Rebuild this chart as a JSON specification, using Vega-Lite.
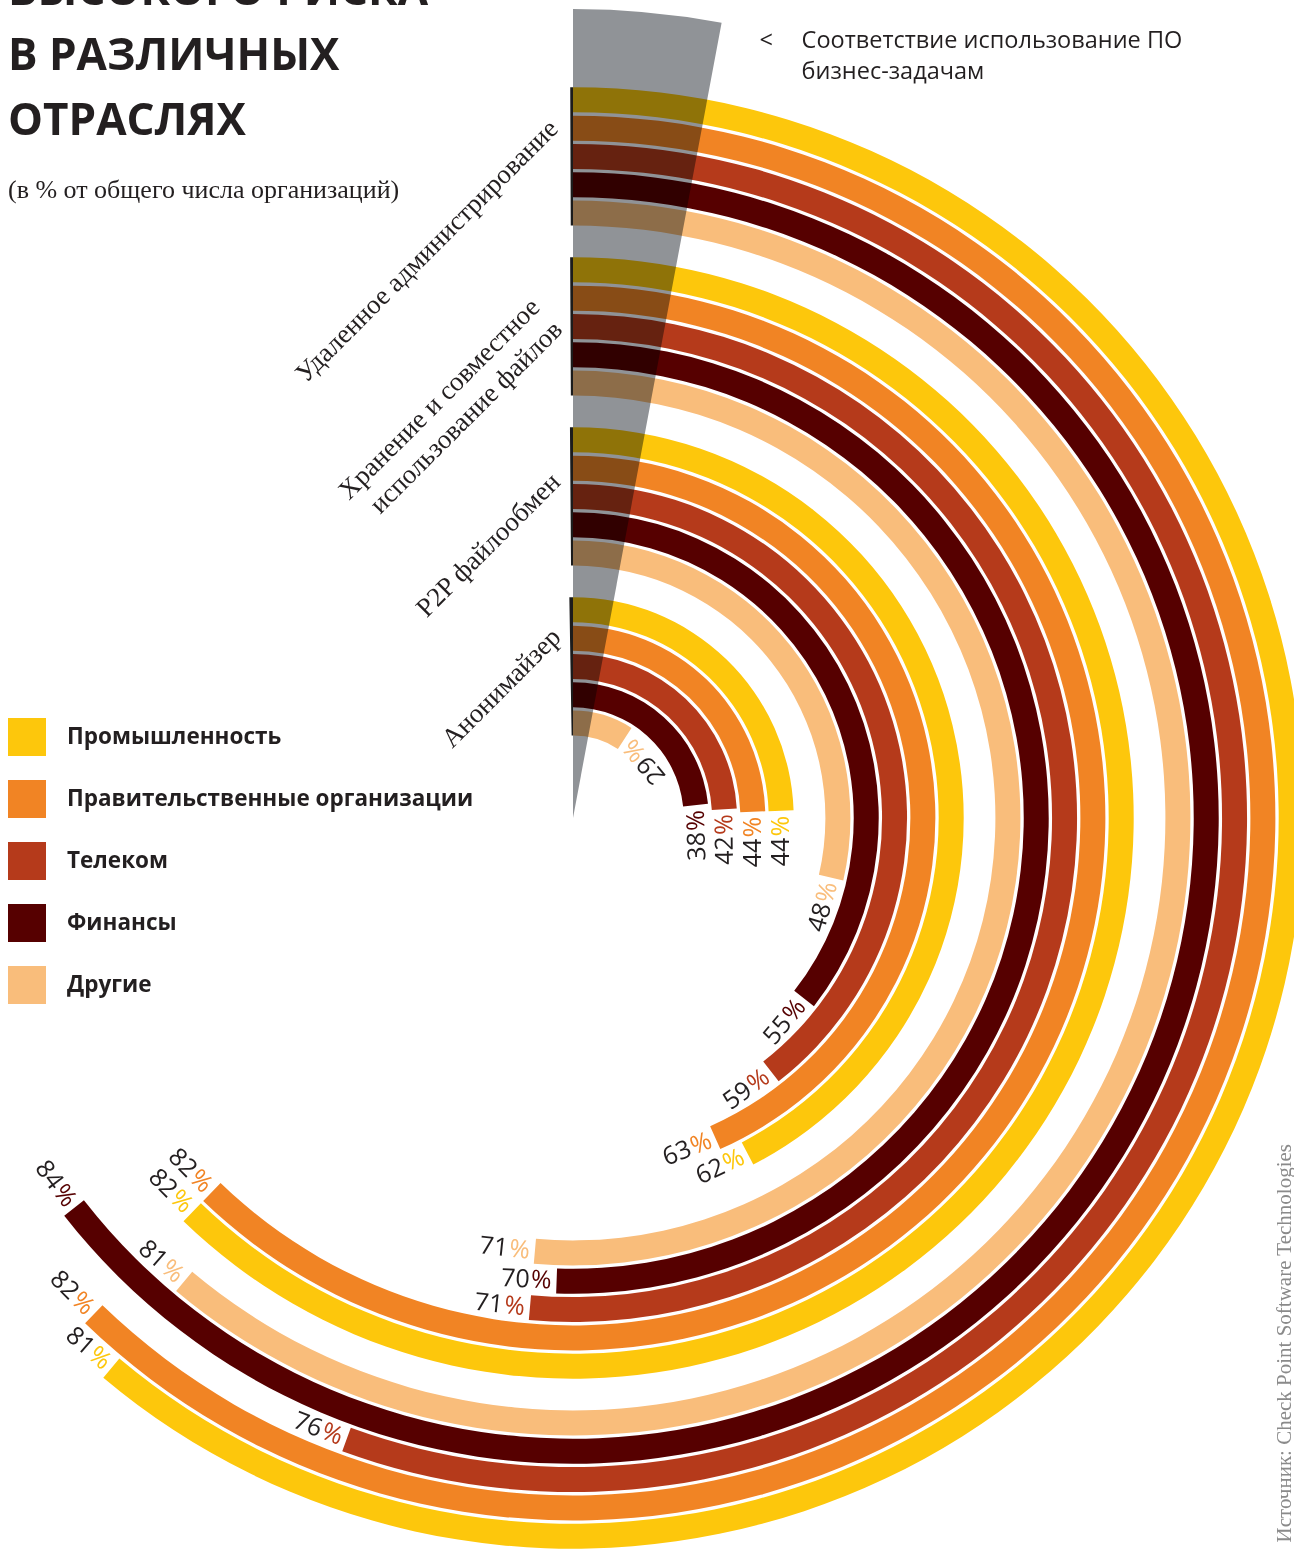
{
  "$schema": "https://vega.github.io/schema/vega-lite/v6.json",
  "width": 1146,
  "height": 1464,
  "autosize": {"type": "none"},
  "padding": {"left": 0, "top": 86, "right": 148, "bottom": 0},
  "background": "white",
  "config": {
    "view": {"stroke": null},
    "legend": {
      "orient": "none", "legendX": 8, "legendY": 632, "padding": 0,
      "symbolType": "square", "symbolSize": 1444, "symbolStrokeWidth": 0, "symbolOpacity": 1,
      "labelFont": "Open Sans", "labelFontWeight": "bold", "labelFontSize": 22.5, "labelColor": "#231f20",
      "labelOffset": 21, "rowPadding": 24, "labelLimit": 700
    }
  },
  "title": {
    "text": ["ВЫСОКОГО РИСКА", "В РАЗЛИЧНЫХ", "ОТРАСЛЯХ"],
    "subtitle": "(в % от общего числа организаций)",
    "anchor": "start", "frame": "group", "orient": "top", "offset": 0,
    "dx": 8, "dy": 194,
    "font": "Open Sans", "fontSize": 44, "fontWeight": "bold", "color": "#231f20", "lineHeight": 65,
    "subtitleFont": "Liberation Serif", "subtitleFontSize": 26, "subtitleColor": "#231f20",
    "subtitleLineHeight": 30, "subtitlePadding": 33
  },
  "datasets": {
    "rings": [
      {"group": "Удаленное администрирование", "industry": "Промышленность", "value": 81},
      {"group": "Удаленное администрирование", "industry": "Правительственные организации", "value": 82},
      {"group": "Удаленное администрирование", "industry": "Телеком", "value": 76},
      {"group": "Удаленное администрирование", "industry": "Финансы", "value": 84},
      {"group": "Удаленное администрирование", "industry": "Другие", "value": 81},
      {"group": "Хранение и совместное\nиспользование файлов", "industry": "Промышленность", "value": 82},
      {"group": "Хранение и совместное\nиспользование файлов", "industry": "Правительственные организации", "value": 82},
      {"group": "Хранение и совместное\nиспользование файлов", "industry": "Телеком", "value": 71},
      {"group": "Хранение и совместное\nиспользование файлов", "industry": "Финансы", "value": 70},
      {"group": "Хранение и совместное\nиспользование файлов", "industry": "Другие", "value": 71},
      {"group": "P2P файлообмен", "industry": "Промышленность", "value": 62},
      {"group": "P2P файлообмен", "industry": "Правительственные организации", "value": 63},
      {"group": "P2P файлообмен", "industry": "Телеком", "value": 59},
      {"group": "P2P файлообмен", "industry": "Финансы", "value": 55},
      {"group": "P2P файлообмен", "industry": "Другие", "value": 48},
      {"group": "Анонимайзер", "industry": "Промышленность", "value": 44},
      {"group": "Анонимайзер", "industry": "Правительственные организации", "value": 44},
      {"group": "Анонимайзер", "industry": "Телеком", "value": 42},
      {"group": "Анонимайзер", "industry": "Финансы", "value": 38},
      {"group": "Анонимайзер", "industry": "Другие", "value": 29}
    ],
    "wedge": [
      {"label": "Соответствие использование ПО\nбизнес-задачам", "value": 9.3}
    ]
  },
  "layer": [
    {
      "data": {"name": "rings"},
      "transform": [{"filter": {"field": "group", "equal": "Анонимайзер"}}],
      "encoding": {
        "radius": {"field": "industry", "type": "nominal", "scale": {"type": "point", "domain": ["Другие", "Финансы", "Телеком", "Правительственные организации", "Промышленность"], "range": [94.9, 208.2], "padding": 0}}
      },
      "layer": [
        {"mark": {"type": "arc", "radiusOffset": 12.5, "radius2Offset": -12.5},
         "encoding": {
           "radius2": {"field": "industry"},
           "theta": {"field": "value", "type": "quantitative", "stack": null, "scale": {"type": "linear", "domain": [0, 29, 38, 44, 48, 55, 63, 70, 76, 84], "range": [0, 0.576, 1.466, 1.536, 1.798, 2.234, 2.723, 3.177, 3.491, 4.049], "zero": false, "nice": false}},
           "theta2": {"datum": 0},
           "color": {"field": "industry", "type": "nominal", "scale": {"domain": ["Промышленность", "Правительственные организации", "Телеком", "Финансы", "Другие"], "range": ["#FDC70C", "#F18424", "#B53A1B", "#560000", "#F9BD7B"]}, "legend": {"title": null}}
         }},
        {"transform": [{"filter": {"field": "industry", "equal": "Промышленность"}}],
         "mark": {"type": "arc", "color": "#1c1c1c", "radiusOffset": 12.5, "radius2Offset": -12.5, "theta2Offset": -0.0166},
         "encoding": {
           "radius2": {"datum": "Другие"},
           "theta": {"datum": 0, "type": "quantitative", "scale": {"type": "linear", "domain": [0, 29, 38, 44, 48, 55, 63, 70, 76, 84], "range": [0, 0.576, 1.466, 1.536, 1.798, 2.234, 2.723, 3.177, 3.491, 4.049], "zero": false, "nice": false}},
           "theta2": {"datum": 0}
         }},
        {"mark": {"type": "text", "align": "right", "baseline": "middle", "dx": -27, "font": "Open Sans", "fontSize": 25, "color": "#231f20"},
         "encoding": {
           "theta": {"field": "value", "type": "quantitative", "stack": null, "scale": {"type": "linear", "domain": [0, 29, 38, 44, 48, 55, 63, 70, 76, 84], "range": [0, 0.576, 1.466, 1.536, 1.798, 2.234, 2.723, 3.177, 3.491, 4.049], "zero": false, "nice": false}},
           "text": {"field": "value", "type": "quantitative", "format": "d"},
           "angle": {"field": "value", "type": "quantitative", "scale": {"type": "linear", "domain": [0, 29, 38, 44, 48, 55, 63, 70, 76, 84], "range": [-180, -130, -92, -90, -74, -50, -22, 3, 21, 53], "zero": false, "nice": false}}
         }},
        {"mark": {"type": "text", "align": "right", "baseline": "middle", "dx": -5, "font": "Open Sans", "fontSize": 25},
         "encoding": {
           "theta": {"field": "value", "type": "quantitative", "stack": null, "scale": {"type": "linear", "domain": [0, 29, 38, 44, 48, 55, 63, 70, 76, 84], "range": [0, 0.576, 1.466, 1.536, 1.798, 2.234, 2.723, 3.177, 3.491, 4.049], "zero": false, "nice": false}},
           "text": {"value": "%"},
           "angle": {"field": "value", "type": "quantitative", "scale": {"type": "linear", "domain": [0, 29, 38, 44, 48, 55, 63, 70, 76, 84], "range": [-180, -130, -92, -90, -74, -50, -22, 3, 21, 53], "zero": false, "nice": false}},
           "color": {"field": "industry", "type": "nominal", "scale": {"domain": ["Промышленность", "Правительственные организации", "Телеком", "Финансы", "Другие"], "range": ["#FDC70C", "#F18424", "#B53A1B", "#560000", "#F9BD7B"]}, "legend": null}
         }},
        {"transform": [{"filter": {"field": "industry", "equal": "Промышленность"}}],
         "mark": {"type": "text", "align": "right", "baseline": "middle", "angle": 315, "dx": -28, "dy": 5, "font": "Liberation Serif", "fontSize": 27, "color": "#231f20", "lineBreak": "\n", "lineHeight": 32},
         "encoding": {
           "theta": {"datum": 0, "type": "quantitative", "scale": {"type": "linear", "domain": [0, 29, 38, 44, 48, 55, 63, 70, 76, 84], "range": [0, 0.576, 1.466, 1.536, 1.798, 2.234, 2.723, 3.177, 3.491, 4.049], "zero": false, "nice": false}},
           "text": {"field": "group", "type": "nominal"}
         }}
      ]
    },
    {
      "data": {"name": "rings"},
      "transform": [{"filter": {"field": "group", "equal": "P2P файлообмен"}}],
      "encoding": {
        "radius": {"field": "industry", "type": "nominal", "scale": {"type": "point", "domain": ["Другие", "Финансы", "Телеком", "Правительственные организации", "Промышленность"], "range": [264.9, 378.2], "padding": 0}}
      },
      "layer": [
        {"mark": {"type": "arc", "radiusOffset": 12.5, "radius2Offset": -12.5},
         "encoding": {
           "radius2": {"field": "industry"},
           "theta": {"field": "value", "type": "quantitative", "stack": null, "scale": {"type": "linear", "domain": [0, 29, 38, 44, 48, 55, 63, 70, 76, 84], "range": [0, 0.576, 1.466, 1.536, 1.798, 2.234, 2.723, 3.177, 3.491, 4.049], "zero": false, "nice": false}},
           "theta2": {"datum": 0},
           "color": {"field": "industry", "type": "nominal", "scale": {"domain": ["Промышленность", "Правительственные организации", "Телеком", "Финансы", "Другие"], "range": ["#FDC70C", "#F18424", "#B53A1B", "#560000", "#F9BD7B"]}, "legend": {"title": null}}
         }},
        {"transform": [{"filter": {"field": "industry", "equal": "Промышленность"}}],
         "mark": {"type": "arc", "color": "#1c1c1c", "radiusOffset": 12.5, "radius2Offset": -12.5, "theta2Offset": -0.0078},
         "encoding": {
           "radius2": {"datum": "Другие"},
           "theta": {"datum": 0, "type": "quantitative", "scale": {"type": "linear", "domain": [0, 29, 38, 44, 48, 55, 63, 70, 76, 84], "range": [0, 0.576, 1.466, 1.536, 1.798, 2.234, 2.723, 3.177, 3.491, 4.049], "zero": false, "nice": false}},
           "theta2": {"datum": 0}
         }},
        {"mark": {"type": "text", "align": "right", "baseline": "middle", "dx": -27, "font": "Open Sans", "fontSize": 25, "color": "#231f20"},
         "encoding": {
           "theta": {"field": "value", "type": "quantitative", "stack": null, "scale": {"type": "linear", "domain": [0, 29, 38, 44, 48, 55, 63, 70, 76, 84], "range": [0, 0.576, 1.466, 1.536, 1.798, 2.234, 2.723, 3.177, 3.491, 4.049], "zero": false, "nice": false}},
           "text": {"field": "value", "type": "quantitative", "format": "d"},
           "angle": {"field": "value", "type": "quantitative", "scale": {"type": "linear", "domain": [0, 29, 38, 44, 48, 55, 63, 70, 76, 84], "range": [-180, -130, -92, -90, -74, -50, -22, 3, 21, 53], "zero": false, "nice": false}}
         }},
        {"mark": {"type": "text", "align": "right", "baseline": "middle", "dx": -5, "font": "Open Sans", "fontSize": 25},
         "encoding": {
           "theta": {"field": "value", "type": "quantitative", "stack": null, "scale": {"type": "linear", "domain": [0, 29, 38, 44, 48, 55, 63, 70, 76, 84], "range": [0, 0.576, 1.466, 1.536, 1.798, 2.234, 2.723, 3.177, 3.491, 4.049], "zero": false, "nice": false}},
           "text": {"value": "%"},
           "angle": {"field": "value", "type": "quantitative", "scale": {"type": "linear", "domain": [0, 29, 38, 44, 48, 55, 63, 70, 76, 84], "range": [-180, -130, -92, -90, -74, -50, -22, 3, 21, 53], "zero": false, "nice": false}},
           "color": {"field": "industry", "type": "nominal", "scale": {"domain": ["Промышленность", "Правительственные организации", "Телеком", "Финансы", "Другие"], "range": ["#FDC70C", "#F18424", "#B53A1B", "#560000", "#F9BD7B"]}, "legend": null}
         }},
        {"transform": [{"filter": {"field": "industry", "equal": "Промышленность"}}],
         "mark": {"type": "text", "align": "right", "baseline": "middle", "angle": 315, "dx": -39, "dy": 15, "font": "Liberation Serif", "fontSize": 27, "color": "#231f20", "lineBreak": "\n", "lineHeight": 32},
         "encoding": {
           "theta": {"datum": 0, "type": "quantitative", "scale": {"type": "linear", "domain": [0, 29, 38, 44, 48, 55, 63, 70, 76, 84], "range": [0, 0.576, 1.466, 1.536, 1.798, 2.234, 2.723, 3.177, 3.491, 4.049], "zero": false, "nice": false}},
           "text": {"field": "group", "type": "nominal"}
         }}
      ]
    },
    {
      "data": {"name": "rings"},
      "transform": [{"filter": {"field": "group", "equal": "Хранение и совместное\nиспользование файлов"}}],
      "encoding": {
        "radius": {"field": "industry", "type": "nominal", "scale": {"type": "point", "domain": ["Другие", "Финансы", "Телеком", "Правительственные организации", "Промышленность"], "range": [434.9, 548.2], "padding": 0}}
      },
      "layer": [
        {"mark": {"type": "arc", "radiusOffset": 12.5, "radius2Offset": -12.5},
         "encoding": {
           "radius2": {"field": "industry"},
           "theta": {"field": "value", "type": "quantitative", "stack": null, "scale": {"type": "linear", "domain": [0, 29, 38, 44, 48, 55, 63, 70, 76, 84], "range": [0, 0.576, 1.466, 1.536, 1.798, 2.234, 2.723, 3.177, 3.491, 4.049], "zero": false, "nice": false}},
           "theta2": {"datum": 0},
           "color": {"field": "industry", "type": "nominal", "scale": {"domain": ["Промышленность", "Правительственные организации", "Телеком", "Финансы", "Другие"], "range": ["#FDC70C", "#F18424", "#B53A1B", "#560000", "#F9BD7B"]}, "legend": {"title": null}}
         }},
        {"transform": [{"filter": {"field": "industry", "equal": "Промышленность"}}],
         "mark": {"type": "arc", "color": "#1c1c1c", "radiusOffset": 12.5, "radius2Offset": -12.5, "theta2Offset": -0.0051},
         "encoding": {
           "radius2": {"datum": "Другие"},
           "theta": {"datum": 0, "type": "quantitative", "scale": {"type": "linear", "domain": [0, 29, 38, 44, 48, 55, 63, 70, 76, 84], "range": [0, 0.576, 1.466, 1.536, 1.798, 2.234, 2.723, 3.177, 3.491, 4.049], "zero": false, "nice": false}},
           "theta2": {"datum": 0}
         }},
        {"mark": {"type": "text", "align": "right", "baseline": "middle", "dx": -27, "font": "Open Sans", "fontSize": 25, "color": "#231f20"},
         "encoding": {
           "theta": {"field": "value", "type": "quantitative", "stack": null, "scale": {"type": "linear", "domain": [0, 29, 38, 44, 48, 55, 63, 70, 76, 84], "range": [0, 0.576, 1.466, 1.536, 1.798, 2.234, 2.723, 3.177, 3.491, 4.049], "zero": false, "nice": false}},
           "text": {"field": "value", "type": "quantitative", "format": "d"},
           "angle": {"field": "value", "type": "quantitative", "scale": {"type": "linear", "domain": [0, 29, 38, 44, 48, 55, 63, 70, 76, 84], "range": [-180, -130, -92, -90, -74, -50, -22, 3, 21, 53], "zero": false, "nice": false}}
         }},
        {"mark": {"type": "text", "align": "right", "baseline": "middle", "dx": -5, "font": "Open Sans", "fontSize": 25},
         "encoding": {
           "theta": {"field": "value", "type": "quantitative", "stack": null, "scale": {"type": "linear", "domain": [0, 29, 38, 44, 48, 55, 63, 70, 76, 84], "range": [0, 0.576, 1.466, 1.536, 1.798, 2.234, 2.723, 3.177, 3.491, 4.049], "zero": false, "nice": false}},
           "text": {"value": "%"},
           "angle": {"field": "value", "type": "quantitative", "scale": {"type": "linear", "domain": [0, 29, 38, 44, 48, 55, 63, 70, 76, 84], "range": [-180, -130, -92, -90, -74, -50, -22, 3, 21, 53], "zero": false, "nice": false}},
           "color": {"field": "industry", "type": "nominal", "scale": {"domain": ["Промышленность", "Правительственные организации", "Телеком", "Финансы", "Другие"], "range": ["#FDC70C", "#F18424", "#B53A1B", "#560000", "#F9BD7B"]}, "legend": null}
         }},
        {"transform": [{"filter": {"field": "industry", "equal": "Промышленность"}}],
         "mark": {"type": "text", "align": "right", "baseline": "middle", "angle": 315, "dx": -50, "dy": -3, "font": "Liberation Serif", "fontSize": 27, "color": "#231f20", "lineBreak": "\n", "lineHeight": 32},
         "encoding": {
           "theta": {"datum": 0, "type": "quantitative", "scale": {"type": "linear", "domain": [0, 29, 38, 44, 48, 55, 63, 70, 76, 84], "range": [0, 0.576, 1.466, 1.536, 1.798, 2.234, 2.723, 3.177, 3.491, 4.049], "zero": false, "nice": false}},
           "text": {"field": "group", "type": "nominal"}
         }}
      ]
    },
    {
      "data": {"name": "rings"},
      "transform": [{"filter": {"field": "group", "equal": "Удаленное администрирование"}}],
      "encoding": {
        "radius": {"field": "industry", "type": "nominal", "scale": {"type": "point", "domain": ["Другие", "Финансы", "Телеком", "Правительственные организации", "Промышленность"], "range": [604.9, 718.2], "padding": 0}}
      },
      "layer": [
        {"mark": {"type": "arc", "radiusOffset": 12.5, "radius2Offset": -12.5},
         "encoding": {
           "radius2": {"field": "industry"},
           "theta": {"field": "value", "type": "quantitative", "stack": null, "scale": {"type": "linear", "domain": [0, 29, 38, 44, 48, 55, 63, 70, 76, 84], "range": [0, 0.576, 1.466, 1.536, 1.798, 2.234, 2.723, 3.177, 3.491, 4.049], "zero": false, "nice": false}},
           "theta2": {"datum": 0},
           "color": {"field": "industry", "type": "nominal", "scale": {"domain": ["Промышленность", "Правительственные организации", "Телеком", "Финансы", "Другие"], "range": ["#FDC70C", "#F18424", "#B53A1B", "#560000", "#F9BD7B"]}, "legend": {"title": null}}
         }},
        {"transform": [{"filter": {"field": "industry", "equal": "Промышленность"}}],
         "mark": {"type": "arc", "color": "#1c1c1c", "radiusOffset": 12.5, "radius2Offset": -12.5, "theta2Offset": -0.0038},
         "encoding": {
           "radius2": {"datum": "Другие"},
           "theta": {"datum": 0, "type": "quantitative", "scale": {"type": "linear", "domain": [0, 29, 38, 44, 48, 55, 63, 70, 76, 84], "range": [0, 0.576, 1.466, 1.536, 1.798, 2.234, 2.723, 3.177, 3.491, 4.049], "zero": false, "nice": false}},
           "theta2": {"datum": 0}
         }},
        {"mark": {"type": "text", "align": "right", "baseline": "middle", "dx": -27, "font": "Open Sans", "fontSize": 25, "color": "#231f20"},
         "encoding": {
           "theta": {"field": "value", "type": "quantitative", "stack": null, "scale": {"type": "linear", "domain": [0, 29, 38, 44, 48, 55, 63, 70, 76, 84], "range": [0, 0.576, 1.466, 1.536, 1.798, 2.234, 2.723, 3.177, 3.491, 4.049], "zero": false, "nice": false}},
           "text": {"field": "value", "type": "quantitative", "format": "d"},
           "angle": {"field": "value", "type": "quantitative", "scale": {"type": "linear", "domain": [0, 29, 38, 44, 48, 55, 63, 70, 76, 84], "range": [-180, -130, -92, -90, -74, -50, -22, 3, 21, 53], "zero": false, "nice": false}}
         }},
        {"mark": {"type": "text", "align": "right", "baseline": "middle", "dx": -5, "font": "Open Sans", "fontSize": 25},
         "encoding": {
           "theta": {"field": "value", "type": "quantitative", "stack": null, "scale": {"type": "linear", "domain": [0, 29, 38, 44, 48, 55, 63, 70, 76, 84], "range": [0, 0.576, 1.466, 1.536, 1.798, 2.234, 2.723, 3.177, 3.491, 4.049], "zero": false, "nice": false}},
           "text": {"value": "%"},
           "angle": {"field": "value", "type": "quantitative", "scale": {"type": "linear", "domain": [0, 29, 38, 44, 48, 55, 63, 70, 76, 84], "range": [-180, -130, -92, -90, -74, -50, -22, 3, 21, 53], "zero": false, "nice": false}},
           "color": {"field": "industry", "type": "nominal", "scale": {"domain": ["Промышленность", "Правительственные организации", "Телеком", "Финансы", "Другие"], "range": ["#FDC70C", "#F18424", "#B53A1B", "#560000", "#F9BD7B"]}, "legend": null}
         }},
        {"transform": [{"filter": {"field": "industry", "equal": "Промышленность"}}],
         "mark": {"type": "text", "align": "right", "baseline": "middle", "angle": 315, "dx": -31, "dy": 4, "font": "Liberation Serif", "fontSize": 27, "color": "#231f20", "lineBreak": "\n", "lineHeight": 32},
         "encoding": {
           "theta": {"datum": 0, "type": "quantitative", "scale": {"type": "linear", "domain": [0, 29, 38, 44, 48, 55, 63, 70, 76, 84], "range": [0, 0.576, 1.466, 1.536, 1.798, 2.234, 2.723, 3.177, 3.491, 4.049], "zero": false, "nice": false}},
           "text": {"field": "group", "type": "nominal"}
         }}
      ]
    },
    {
      "data": {"name": "wedge"},
      "layer": [
        {"mark": {"type": "arc", "fill": "#909397", "blend": "multiply", "radius": 809},
         "encoding": {
           "theta": {"field": "value", "type": "quantitative", "stack": null, "scale": {"type": "linear", "domain": [0, 29, 38, 44, 48, 55, 63, 70, 76, 84], "range": [0, 0.576, 1.466, 1.536, 1.798, 2.234, 2.723, 3.177, 3.491, 4.049], "zero": false, "nice": false}},
           "theta2": {"datum": 0}
         }},
        {"mark": {"type": "text", "text": "<", "radius": 809, "align": "left", "baseline": "alphabetic", "dx": 38, "dy": 25, "font": "Open Sans", "fontSize": 23.5, "color": "#231f20"},
         "encoding": {
           "theta": {"field": "value", "type": "quantitative", "stack": null, "scale": {"type": "linear", "domain": [0, 29, 38, 44, 48, 55, 63, 70, 76, 84], "range": [0, 0.576, 1.466, 1.536, 1.798, 2.234, 2.723, 3.177, 3.491, 4.049], "zero": false, "nice": false}}
         }},
        {"mark": {"type": "text", "radius": 809, "align": "left", "baseline": "alphabetic", "dx": 80, "dy": 25, "font": "Open Sans", "fontSize": 23.5, "color": "#231f20", "lineBreak": "\n", "lineHeight": 31},
         "encoding": {
           "theta": {"field": "value", "type": "quantitative", "stack": null, "scale": {"type": "linear", "domain": [0, 29, 38, 44, 48, 55, 63, 70, 76, 84], "range": [0, 0.576, 1.466, 1.536, 1.798, 2.234, 2.723, 3.177, 3.491, 4.049], "zero": false, "nice": false}},
           "text": {"field": "label", "type": "nominal"}
         }}
      ]
    },
    {
      "data": {"values": [{"source": "Источник: Check Point Software Technologies"}]},
      "mark": {"type": "point", "opacity": 0},
      "encoding": {
        "y": {"datum": 0, "type": "quantitative", "scale": {"domain": [0, 1]},
              "axis": {"orient": "right", "domain": false, "ticks": false, "labels": false, "grid": false,
                       "title": "Источник: Check Point Software Technologies",
                       "titleFont": "Liberation Serif", "titleFontSize": 21, "titleFontWeight": "normal", "titleColor": "#8a8a8a",
                       "titleAngle": 270, "titleAlign": "left", "titleBaseline": "middle", "titleX": 138, "titleY": 1456}}
      }
    }
  ],
  "resolve": {"scale": {"radius": "independent"}}
}
